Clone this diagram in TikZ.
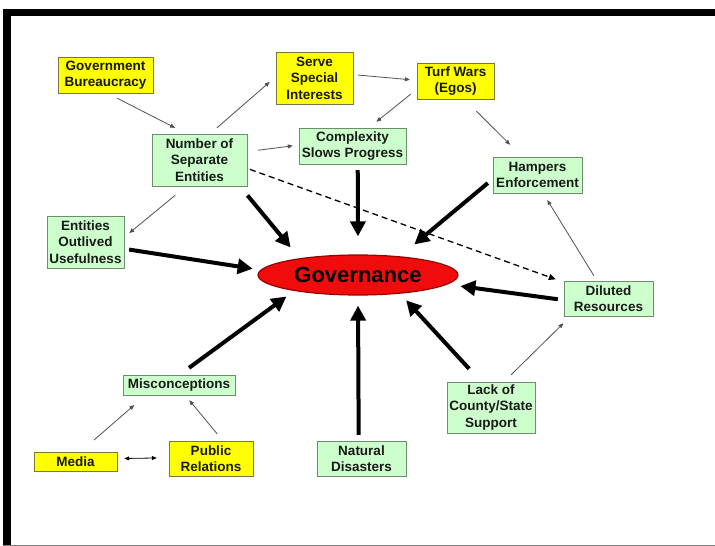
\documentclass[tikz,border=0pt]{standalone}
\usepackage{fontspec}
\setmainfont{Liberation Sans}
\usetikzlibrary{arrows.meta,shapes.geometric}
\definecolor{greenFill}{RGB}{204,255,204}
\definecolor{greenLine}{RGB}{110,140,110}
\definecolor{yellowFill}{RGB}{255,255,0}
\definecolor{yellowLine}{RGB}{120,120,60}
\definecolor{hubFill}{RGB}{240,12,12}
\definecolor{hubLine}{RGB}{150,0,0}
\definecolor{thinLine}{RGB}{80,80,80}
\tikzset{
  cause/.style={rectangle, draw=greenLine, fill=greenFill, inner sep=1pt, align=center,
                font=\fontsize{13.5}{16.5}\selectfont\bfseries, text=black!90},
  root/.style={cause, draw=yellowLine, fill=yellowFill},
  hub/.style={ellipse, draw=hubLine, line width=1.2pt, fill=hubFill, inner sep=0pt,
              minimum width=200pt, minimum height=40pt, font=\fontsize{22}{26}\selectfont\bfseries},
  push/.style={-{Triangle[length=15pt,width=15pt]}, line width=4pt},
  link/.style={-{Triangle[length=5pt,width=4pt]}, draw=thinLine, line width=0.8pt},
  weak/.style={-{Triangle[length=7pt,width=6pt]}, line width=1.3pt, dash pattern=on 6pt off 4pt},
}
\begin{document}
\begin{tikzpicture}[x=1pt, y=-1pt]
  \useasboundingbox (0,0) rectangle (715,546);
  % frame
  \fill (3,9) rectangle (715,16);
  \fill (3,9) rectangle (11,545);
  \draw[gray, line width=1pt] (3,545) -- (715,545);

  % top row
  \node[root, minimum width=95pt, minimum height=36pt] (bur) at (105.5,75) {Government\\Bureaucracy};
  \node[root, minimum width=77pt, minimum height=52pt] (ssi) at (314.5,78) {Serve\\Special\\Interests};
  \node[root, minimum width=77pt, minimum height=36pt] (turf) at (455.5,81) {Turf Wars\\(Egos)};
  \node[cause, minimum width=95pt, minimum height=52pt] (num) at (199.5,160) {Number of\\Separate\\Entities};
  \node[cause, minimum width=107pt, minimum height=36pt] (cpx) at (352.5,146) {Complexity\\Slows Progress};
  \node[cause, minimum width=89pt, minimum height=36pt] (ham) at (537.5,175) {Hampers\\Enforcement};
  \node[cause, minimum width=77pt, minimum height=52pt] (eou) at (85.5,242) {Entities\\Outlived\\Usefulness};

  % middle
  \node[hub] (gov) at (358,275) {Governance};
  \node[cause, minimum width=89pt, minimum height=35pt] (dil) at (608.5,298.5) {Diluted\\Resources};

  % bottom row
  \node[cause, minimum width=112pt, minimum height=20pt] (mis) at (179,385) {Misconceptions};
  \node[root, minimum width=83pt, minimum height=19pt] (med) at (75.5,461.5) {Media};
  \node[root, minimum width=84pt, minimum height=35pt] (pr) at (211,458.5) {Public\\Relations};
  \node[cause, minimum width=89pt, minimum height=35pt] (nat) at (361.5,458.5) {Natural\\Disasters};
  \node[cause, minimum width=88pt, minimum height=51pt] (lack) at (491,407.5) {Lack of\\County/State\\Support};

  % thin links
  \draw[link, shorten <=11pt, shorten >=13pt] (bur.-84.3) -- (num.116.6);
  \draw[link, shorten <=9pt, shorten >=8pt] (num.68) -- (ssi.178.2);
  \draw[link, shorten <=11pt, shorten >=6pt] (num.10.4) -- (cpx.179.3);
  \draw[link, shorten <=14pt, shorten >=6.5pt] (num.-117.6) -- (eou.7.4);
  \draw[link, shorten <=5pt, shorten >=7pt] (ssi.5.2) -- (turf.179.6);
  \draw[link, shorten <=7.7pt, shorten >=9.6pt] (turf.-168) -- (cpx.48.4);
  \draw[link, shorten <=17pt, shorten >=17pt] (turf.-64.7) -- (ham.130.7);
  \draw[link, shorten <=6pt, shorten >=8pt] (dil.123.1) -- (ham.-73.9);
  \draw[link, shorten <=10pt, shorten >=10pt] (lack.63) -- (dil.-155.6);
  \draw[link, shorten <=18pt, shorten >=15pt] (med.63.2) -- (mis.-163.4);
  \draw[link, shorten <=9pt, shorten >=6.5pt] (pr.56) -- (mis.-59.5);
  \draw[link, {Triangle[length=5pt,width=4pt]}-{Triangle[length=5pt,width=4pt]}, draw=black,
        shorten <=7pt, shorten >=12pt] (med.4.8) -- (pr.179.3);
  \draw[weak, shorten <=3pt, shorten >=8.5pt] (num.-10.6) -- (dil.160.7);

  % heavy pushes into governance
  \draw[push, shorten <=12pt, shorten >=14pt] (num.-33.7) -- (gov.164.3);
  \draw[push, shorten <=5pt, shorten >=8pt] (eou.-10.2) -- (gov.177.8);
  \draw[push, shorten <=6pt, shorten >=18pt] (cpx.-74.5) -- (gov.90);
  \draw[push, shorten <=6.5pt, shorten >=18.5pt] (ham.185.2) -- (gov.24.1);
  \draw[push, shorten <=6pt, shorten >=13pt] (dil.182.6) -- (gov.-6);
  \draw[push, shorten <=17.7pt, shorten >=9pt] (lack.111.8) -- (gov.-24);
  \draw[push, shorten <=6pt, shorten >=10pt] (nat.99.7) -- (gov.-90);
  \draw[push, shorten <=11.8pt, shorten >=9.5pt] (mis.87) -- (gov.-166.2);
\end{tikzpicture}
\end{document}
